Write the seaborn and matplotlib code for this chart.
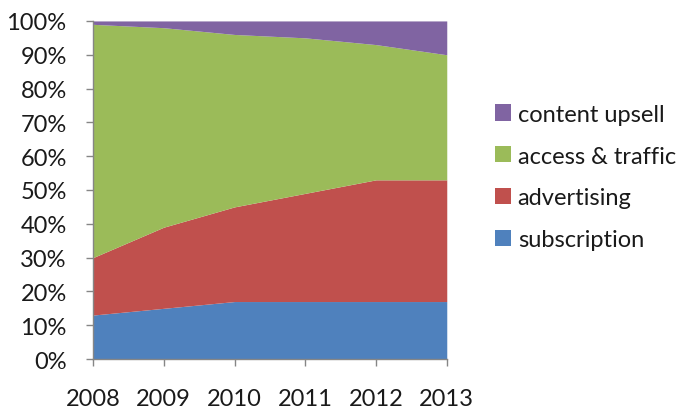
import matplotlib
matplotlib.use("Agg")
import matplotlib.pyplot as plt
import seaborn as sns
from matplotlib.patches import Patch
from matplotlib.ticker import PercentFormatter

years = [2008, 2009, 2010, 2011, 2012, 2013]
subscription = [13, 15, 17, 17, 17, 17]
advertising = [17, 24, 28, 32, 36, 36]
access_traffic = [69, 59, 51, 46, 40, 37]
content_upsell = [1, 2, 4, 5, 7, 10]

series_names = ["subscription", "advertising", "access & traffic", "content upsell"]
series_colors = ["#4F81BD", "#C0504D", "#9BBB59", "#8064A2"]
y_ticks = [0, 10, 20, 30, 40, 50, 60, 70, 80, 90, 100]

sns.set_theme(style="white")
plt.rcParams["font.family"] = ["Lato", "DejaVu Sans"]
palette = sns.color_palette(series_colors)

fig = plt.figure(figsize=(6.8, 4.14), dpi=100)
ax = fig.add_axes([0.1368, 0.1304, 0.5202, 0.8166])

ax.stackplot(years, subscription, advertising, access_traffic, content_upsell,
             colors=palette, linewidth=0)

ax.set_xlim(years[0], years[-1])
ax.set_ylim(0, 100)
ax.set_xticks(years)
ax.set_yticks(y_ticks)
ax.yaxis.set_major_formatter(PercentFormatter(decimals=0))

for side in ["top", "right"]:
    ax.spines[side].set_visible(False)
for side in ["left", "bottom"]:
    ax.spines[side].set_color("#868686")
    ax.spines[side].set_linewidth(1.0)

ax.tick_params(axis="both", which="major", direction="out", length=5,
               width=1.0, color="#868686", labelsize=17, labelcolor="#1a1a1a")
ax.tick_params(axis="x", pad=16, bottom=True)
ax.tick_params(axis="y", pad=14, left=True)

handles = [Patch(facecolor=palette[i], edgecolor="none", label=series_names[i])
           for i in range(len(series_names))][::-1]
fig.legend(handles=handles, loc="center left", bbox_to_anchor=(0.728, 0.570),
           frameon=False, fontsize=17, handlelength=0.68, handleheight=0.68,
           handletextpad=0.28, labelspacing=0.88, labelcolor="#1a1a1a",
           borderaxespad=0, borderpad=0)

fig.savefig("out.png", dpi=100)
